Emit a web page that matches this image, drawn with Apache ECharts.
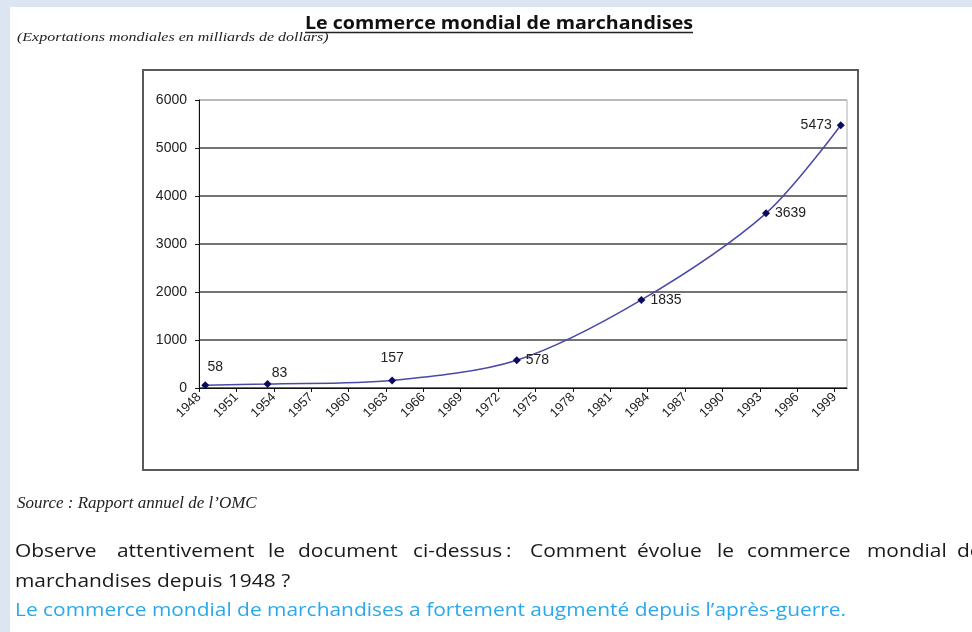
<!DOCTYPE html>
<html>
<head>
<meta charset="utf-8">
<script src="https://cdn.jsdelivr.net/npm/echarts@6/dist/echarts.min.js"></script>
<style>
html,body{margin:0;padding:0;background:#dce6f2;}
#c{width:972px;height:632px;}
</style>
</head>
<body>
<div id="c"></div>
<script>
// ---- data ----
var years = [1948, 1953, 1963, 1973, 1983, 1993, 1999];
var exports = [58, 83, 157, 578, 1835, 3639, 5473];
var tickYears = [1948, 1951, 1954, 1957, 1960, 1963, 1966, 1969, 1972, 1975, 1978, 1981, 1984, 1987, 1990, 1993, 1996, 1999];
var yTicks = [0, 1000, 2000, 3000, 4000, 5000, 6000];

var titleText = 'Le commerce mondial de marchandises';
var subtitleText = '(Exportations mondiales en milliards de dollars)';
var sourceText = 'Source : Rapport annuel de l\u2019OMC';
var line1Words = ['Observe', 'attentivement', 'le', 'document', 'ci-dessus', ':', 'Comment', '\u00e9volue', 'le', 'commerce', 'mondial', 'de'];
var line2Text = 'marchandises depuis 1948 ?';
var answerText = 'Le commerce mondial de marchandises a fortement augment\u00e9 depuis l\u2019apr\u00e8s-guerre.';

// ---- layout (not data) ----
var line1X = [15, 117, 268, 298, 413, 506, 530, 637, 717, 747, 867, 957];
var labelCfg = [
  {position: 'top', offset: [10, -2]},
  {position: 'top', offset: [12, 5]},
  {position: 'top', distance: 11},
  {position: 'right'},
  {position: 'right'},
  {position: 'right'},
  {position: 'left'}
];

var seriesData = years.map(function (y, i) {
  // points are centred within their year (date-axis convention)
  return {value: [y + 0.5, exports[i]], label: labelCfg[i]};
});

var BODY_SX = 1.162;
var graphics = [
  {type: 'rect', z: -100, shape: {x: 10, y: 7, width: 962, height: 625}, style: {fill: '#ffffff'}},
  {type: 'rect', z: -90, shape: {x: 143, y: 70, width: 715, height: 400}, style: {fill: '#ffffff', stroke: '#5a5a5a', lineWidth: 2}},
  {type: 'text', x: 499, y: 24, scaleX: 1.155, style: {text: titleText, font: 'bold 17px "Open Sans"', fill: '#111', align: 'center', verticalAlign: 'middle'}},
  {type: 'line', shape: {x1: 305, y1: 32.5, x2: 693, y2: 32.5}, style: {stroke: '#222', lineWidth: 1.5}},
  {type: 'text', x: 17, y: 37.5, scaleX: 1.23, style: {text: subtitleText, font: 'italic 13px "Liberation Serif"', fill: '#222', verticalAlign: 'middle'}},
  {type: 'text', x: 17, y: 504, style: {text: sourceText, font: 'italic 17px "Liberation Serif"', fill: '#222', verticalAlign: 'middle'}},
  {type: 'text', x: 15, y: 582, scaleX: BODY_SX, style: {text: line2Text, font: '18px "Open Sans"', fill: '#1a1a1a', verticalAlign: 'middle'}},
  {type: 'text', x: 15, y: 611, scaleX: BODY_SX, style: {text: answerText, font: '18px "Open Sans"', fill: '#2aa8ec', verticalAlign: 'middle'}}
];
line1Words.forEach(function (w, i) {
  graphics.push({type: 'text', x: line1X[i], y: 552, scaleX: BODY_SX, style: {text: w, font: '18px "Open Sans"', fill: '#1a1a1a', verticalAlign: 'middle'}});
});

function plain(v) { return String(v); }

var chart = echarts.init(document.getElementById('c'));
chart.setOption({
  backgroundColor: '#dce6f2',
  animation: false,
  graphic: graphics,
  grid: {left: 199, right: 125, top: 100, bottom: 244, show: true, borderColor: '#b0b0b0', borderWidth: 1, backgroundColor: 'transparent'},
  xAxis: {
    type: 'value', min: 1948, max: 2000, interval: 3,
    axisLine: {show: true, lineStyle: {color: '#111', width: 1}},
    axisTick: {show: true, length: 4, lineStyle: {color: '#111'}, customValues: tickYears},
    axisLabel: {rotate: 45, margin: 7, fontFamily: 'Liberation Sans', fontSize: 13, color: '#222', customValues: tickYears, formatter: plain},
    splitLine: {show: false}
  },
  yAxis: {
    type: 'value', min: yTicks[0], max: yTicks[yTicks.length - 1], interval: 1000,
    axisLine: {show: true, lineStyle: {color: '#111', width: 1}},
    axisTick: {show: true, length: 4, lineStyle: {color: '#111'}},
    axisLabel: {margin: 12, fontFamily: 'Liberation Sans', fontSize: 14, color: '#222', formatter: plain},
    splitLine: {show: true, lineStyle: {color: ['#444', '#444', '#444', '#444', '#444', '#444', '#b0b0b0'], width: 1.6}}
  },
  series: [{
    type: 'line',
    smooth: 0.3,
    data: seriesData,
    symbol: 'diamond',
    symbolSize: 8,
    lineStyle: {color: '#4a4aa6', width: 1.5},
    itemStyle: {color: '#0a0a5e'},
    label: {show: true, fontFamily: 'Liberation Sans', fontSize: 14, color: '#222', formatter: function (p) { return p.value[1]; }}
  }]
});
</script>
</body>
</html>
